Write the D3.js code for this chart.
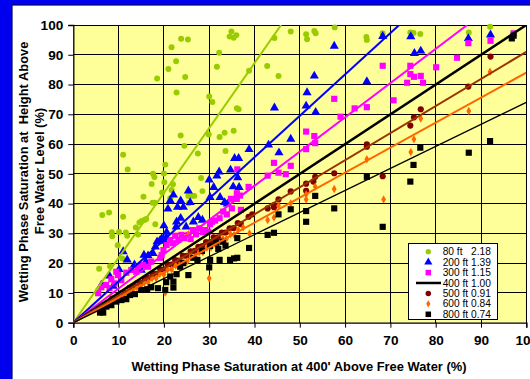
<!DOCTYPE html>
<html><head><meta charset="utf-8">
<script src="https://cdn.jsdelivr.net/npm/d3@7"></script>
<style>body{margin:0;overflow:hidden;background:#fff}text{font-family:"Liberation Sans",Arial,sans-serif;}</style>
</head><body><svg id="c" width="530" height="379"></svg>
<script>
// ---------- DATA ----------
const xTicks=[0,10,20,30,40,50,60,70,80,90,100];
const yTicks=[0,10,20,30,40,50,60,70,80,90,100];
const seriesNames=["80 ft","200 ft","300 ft","400 ft","500 ft","600 ft","800 ft"];
const slopes=[2.18,1.39,1.15,1.00,0.91,0.84,0.74];
const legendLabels=["80 ft   2.18","200 ft 1.39","300 ft 1.15","400 ft 1.00","500 ft 0.91","600 ft 0.84","800 ft 0.74"];
const xTitle="Wetting Phase Saturation at 400' Above Free Water (%)";
const yTitle1="Wetting Phase Saturation at  Height Above";
const yTitle2="Free Water Level (%)";

const pts80=[[5.5,11.0],[5.7,18.1],[6.4,36.2],[7.9,37.0],[8.1,19.0],[8.5,30.4],[8.6,29.0],[9.8,26.0],[10.1,30.5],[10.8,21.6],[11.0,35.6],[11.0,56.4],[11.6,30.3],[11.9,29.2],[12.0,51.5],[13.8,32.0],[14.3,29.6],[14.6,33.7],[15.1,34.2],[15.5,42.3],[15.7,34.5],[16.1,34.8],[17.3,46.6],[17.5,40.3],[17.6,50.0],[17.9,48.9],[18.0,40.3],[18.1,33.1],[18.5,82.0],[19.6,43.7],[20.0,50.1],[20.1,47.2],[20.3,53.1],[21.0,85.2],[21.4,41.8],[21.7,92.5],[21.7,44.6],[22.0,46.5],[22.7,87.8],[22.8,77.3],[23.7,62.9],[23.8,95.4],[24.5,59.4],[24.7,82.5],[25.3,95.1],[25.4,42.6],[25.5,40.1],[26.0,42.6],[26.7,42.6],[27.5,56.8],[28.2,48.6],[28.5,44.2],[29.9,63.2],[30.0,76.0],[30.7,74.1],[31.7,86.0],[32.2,90.7],[32.3,62.4],[33.4,63.8],[33.6,57.7],[34.5,96.1],[34.9,97.8],[35.4,95.7],[35.4,64.5],[36.0,96.6],[36.1,72.0],[36.5,71.7],[38.8,84.6],[42.8,86.2],[44.4,95.6],[45.3,82.9],[48.0,97.8],[51.4,96.9],[51.6,95.2],[53.2,98.0],[53.5,97.2],[57.7,99.2],[64.7,96.0],[64.8,95.0],[68.3,97.2],[74.4,97.5],[75.1,97.3],[76.6,97.0],[87.3,97.5],[92.0,99.4]];
const pts200=[[6.2,12.7],[8.0,15.7],[8.8,12.3],[10.1,17.9],[11.0,23.9],[11.9,21.1],[13.5,19.5],[15.0,17.7],[15.6,22.7],[16.0,20.5],[16.5,22.5],[17.6,23.3],[18.1,25.5],[18.5,27.2],[19.1,27.5],[19.5,28.3],[20.0,27.5],[20.0,32.6],[20.5,28.6],[20.6,30.4],[20.9,38.2],[21.4,41.0],[22.1,42.9],[22.7,32.2],[22.8,33.9],[23.0,38.8],[23.7,35.1],[23.7,41.0],[24.3,38.8],[24.9,32.2],[25.4,44.3],[25.8,40.4],[26.5,33.9],[27.6,35.4],[28.5,34.5],[30.0,48.0],[30.2,42.1],[31.0,45.5],[31.7,49.3],[32.2,50.7],[32.4,42.1],[33.4,40.4],[34.0,39.9],[34.7,51.3],[35.3,45.7],[35.6,55.2],[36.3,48.7],[36.5,55.2],[36.6,45.5],[38.8,58.2],[43.1,59.7],[44.4,72.2],[45.4,57.1],[48.0,61.7],[51.4,72.8],[51.6,77.3],[53.2,82.9],[53.5,70.7],[57.6,92.9],[64.8,81.0],[68.3,96.2],[74.5,96.1],[75.3,90.5],[76.7,91.3],[87.2,95.5],[92.1,96.7]];
const pts300=[[5.5,9.9],[6.2,11.9],[7.2,12.7],[8.0,11.6],[8.4,14.6],[9.1,13.2],[9.5,17.1],[9.9,16.0],[10.6,14.3],[11.7,16.8],[12.8,17.7],[13.9,17.1],[14.3,18.8],[15.4,19.4],[16.5,18.8],[17.2,20.5],[19.2,21.8],[19.5,22.7],[19.9,24.4],[20.6,26.1],[21.4,27.8],[22.0,26.7],[22.5,29.2],[23.2,27.8],[23.9,29.5],[24.5,28.4],[25.4,29.5],[25.9,28.1],[26.4,31.1],[27.1,29.7],[27.8,31.7],[28.6,30.4],[29.1,31.1],[29.8,30.6],[30.2,33.1],[30.6,33.9],[31.3,34.3],[32.3,35.1],[33.1,37.3],[33.9,36.4],[34.8,41.6],[35.0,38.4],[36.1,43.5],[36.8,42.7],[36.1,41.6],[37.0,37.9],[36.2,51.5],[38.7,45.6],[42.9,49.4],[44.3,53.7],[45.3,50.4],[46.9,49.9],[48.0,52.7],[51.4,58.3],[51.4,64.2],[53.2,62.7],[53.4,60.3],[57.6,75.2],[59.0,69.2],[62.1,72.0],[64.8,72.4],[68.3,86.3],[70.7,74.7],[73.7,80.6],[74.4,86.3],[74.4,83.5],[75.2,82.6],[76.7,82.9],[77.2,80.6],[80.1,85.8],[84.7,89.0],[87.2,93.9],[92.1,94.7],[97.2,97.2]];
const pts500=[[5.8,4.8],[6.5,5.9],[7.5,6.6],[8.5,8.1],[9.6,8.4],[10.5,9.9],[11.5,10.1],[12.4,11.7],[13.2,11.9],[14.0,13.2],[15.0,13.3],[15.8,14.7],[16.6,15.0],[17.5,16.4],[18.3,16.4],[19.2,17.9],[20.1,17.9],[20.8,19.6],[21.7,19.5],[22.5,21.0],[23.3,20.9],[24.2,22.5],[25.0,22.5],[25.9,24.0],[26.8,24.1],[27.6,25.5],[28.5,25.7],[29.3,27.1],[30.2,27.1],[31.0,28.7],[31.9,28.7],[32.8,30.3],[33.6,30.3],[34.5,31.7],[35.4,31.8],[36.3,33.5],[37.0,33.1],[38.7,35.6],[39.5,36.4],[42.9,38.4],[44.3,38.8],[44.3,39.5],[45.3,41.4],[48.0,44.1],[51.4,44.3],[51.4,46.7],[53.0,47.4],[53.4,49.0],[57.6,50.2],[64.8,59.1],[64.8,59.9],[68.3,49.2],[74.4,66.2],[75.2,69.0],[76.7,71.7],[87.2,79.3],[92.1,89.4]];
const pts600=[[5.5,4.0],[6.3,4.6],[7.0,5.8],[8.0,6.1],[8.8,7.5],[9.7,7.6],[10.5,9.0],[11.4,9.1],[12.2,10.6],[13.1,10.7],[14.0,12.0],[14.8,12.0],[15.7,13.5],[16.5,13.5],[17.4,15.0],[18.3,14.9],[19.1,16.4],[20.0,16.2],[20.3,10.1],[20.8,17.8],[21.7,17.8],[22.6,19.2],[23.4,19.2],[24.3,20.6],[25.2,20.7],[25.4,29.7],[26.0,22.2],[26.9,22.2],[27.8,23.6],[28.6,23.7],[29.5,25.2],[30.0,14.9],[30.4,25.2],[31.2,26.6],[32.1,26.6],[33.0,28.2],[33.8,28.2],[34.7,29.7],[35.5,29.5],[36.4,31.2],[37.5,32.0],[38.9,30.0],[42.9,34.5],[44.3,35.3],[45.3,39.3],[48.0,40.1],[51.4,41.4],[51.4,43.1],[53.4,45.7],[57.6,44.9],[64.8,54.9],[68.5,41.4],[74.5,57.3],[75.2,61.6],[76.7,68.6],[87.3,71.1],[92.0,84.3]];
const pts800=[[5.9,3.4],[6.6,3.4],[6.4,4.3],[6.2,5.6],[7.3,5.4],[8.4,5.9],[9.5,7.1],[10.6,7.6],[11.7,7.9],[12.5,9.3],[13.6,9.6],[15.0,11.0],[16.3,11.2],[17.2,11.9],[18.7,11.6],[20.3,11.0],[20.5,13.6],[21.4,15.5],[22.1,11.8],[22.1,13.8],[22.8,16.3],[23.6,18.8],[24.3,20.0],[25.4,16.0],[26.5,21.8],[27.4,21.1],[28.4,24.1],[30.0,18.6],[30.2,21.1],[30.2,25.8],[31.5,26.9],[32.0,24.8],[32.3,21.1],[33.0,27.2],[33.6,25.9],[34.6,21.1],[35.5,21.6],[36.2,21.8],[36.2,28.4],[38.8,25.1],[42.9,29.5],[44.3,30.2],[45.3,36.4],[48.0,38.1],[51.4,33.9],[51.4,37.5],[53.4,42.6],[57.6,38.4],[64.8,49.0],[68.3,32.2],[74.4,47.4],[75.1,53.0],[76.6,58.8],[87.3,57.1],[92.0,61.0],[96.8,95.5],[97.2,96.4]];
const seriesPoints=[pts80,pts200,pts300,[],pts500,pts600,pts800];

// ---------- STYLE ----------
const markerColor=["#99CC00","#0000FF","#FF00FF",null,"#800000","#FF6600","#000000"];
const lineColor=["#99CC00","#0000FF","#FF00FF","#000000","#993300","#FF6600","#000000"];
const lineWidth=[2,2,2,2.5,2,2,1.3];
const symType=[d3.symbolCircle,d3.symbolTriangle,d3.symbolSquare,null,d3.symbolCircle,d3.symbolDiamond,d3.symbolSquare];
const symSize=[28,36,38,0,30,20,38];
const FONT="'Liberation Sans',Arial,sans-serif";

const svg=d3.select("#c");
svg.append("rect").attr("x",0).attr("y",0).attr("width",530).attr("height",379).attr("fill","#0000EE");
svg.append("rect").attr("x",12).attr("y",5).attr("width",520).attr("height",380).attr("fill","#fff").attr("stroke","#000066").attr("stroke-width",1.2);

const x=d3.scaleLinear().domain([0,100]).range([73.3,526.3]);
const y=d3.scaleLinear().domain([0,100]).range([322.7,25]);

svg.append("rect").attr("x",x(0)).attr("y",y(100)).attr("width",x(100)-x(0)).attr("height",y(0)-y(100)).attr("fill","#FFFF99");

const g=svg.append("g");
g.selectAll("line.v").data(xTicks.slice(1)).join("line").attr("x1",d=>x(d)).attr("x2",d=>x(d)).attr("y1",y(0)).attr("y2",y(100)).attr("stroke","#000").attr("stroke-width",1).attr("shape-rendering","crispEdges");
g.selectAll("line.h").data(yTicks.slice(1)).join("line").attr("x1",x(0)).attr("x2",x(100)).attr("y1",d=>y(d)).attr("y2",d=>y(d)).attr("stroke","#000").attr("stroke-width",1).attr("shape-rendering","crispEdges");

const xa=svg.append("g").attr("transform",`translate(0,${y(0)})`).call(d3.axisBottom(x).tickValues(xTicks).tickSize(5).tickPadding(8).tickFormat(d3.format("d")));
const ya=svg.append("g").attr("transform",`translate(${x(0)},0)`).call(d3.axisLeft(y).tickValues(yTicks).tickSize(5).tickPadding(5).tickFormat(d3.format("d")));
[xa,ya].forEach(a=>{a.select(".domain").attr("stroke","#000").attr("stroke-width",1.3);a.selectAll(".tick line").attr("stroke","#000");a.selectAll("text").attr("font-size","13.6px").attr("font-weight","bold").attr("fill","#000").attr("font-family",FONT);});

svg.append("clipPath").attr("id","pc").append("rect").attr("x",x(0)).attr("y",y(100)).attr("width",x(100)-x(0)).attr("height",y(0)-y(100));
seriesPoints.forEach((pts,i)=>{
  if(!pts.length) return;
  const sym=d3.symbol().type(symType[i]).size(symSize[i]);
  svg.append("g").selectAll("path").data(pts).join("path")
    .attr("d",sym).attr("transform",d=>`translate(${x(d[0])},${y(d[1])})`).attr("fill",markerColor[i]);
});
const lg=svg.append("g").attr("clip-path","url(#pc)");
slopes.forEach((s,i)=>{
  const xe=Math.min(100,100/s);
  lg.append("line").attr("x1",x(0)).attr("y1",y(0)).attr("x2",x(xe)).attr("y2",y(s*xe)).attr("stroke",lineColor[i]).attr("stroke-width",lineWidth[i]);
});

svg.append("text").attr("x",299).attr("y",371).attr("text-anchor","middle").attr("font-size","12.9px").attr("font-weight","bold").text(xTitle);
svg.append("text").attr("transform","translate(27.5,172) rotate(-90)").attr("text-anchor","middle").attr("font-size","12.9px").attr("font-weight","bold").style("white-space","pre").text(yTitle1);
svg.append("text").attr("transform","translate(43.5,171) rotate(-90)").attr("text-anchor","middle").attr("font-size","12.9px").attr("font-weight","bold").text(yTitle2);

const L=svg.append("g");
L.append("rect").attr("x",408.5).attr("y",243.5).attr("width",89).attr("height",76).attr("fill","#fff").attr("stroke","#000").attr("stroke-width",1);
legendLabels.forEach((t,i)=>{
  const cy=251.7+i*10.43;
  if(symType[i]){
    L.append("path").attr("d",d3.symbol().type(symType[i]).size(symSize[i]*0.8)()).attr("transform",`translate(428.3,${cy})`).attr("fill",markerColor[i]);
  } else {
    L.append("line").attr("x1",416).attr("x2",441).attr("y1",cy).attr("y2",cy).attr("stroke",lineColor[i]).attr("stroke-width",2.5);
  }
  L.append("text").attr("x",442.7).attr("y",cy+3.6).attr("font-size","10.2px").style("white-space","pre").text(t);
});
</script></body></html>
